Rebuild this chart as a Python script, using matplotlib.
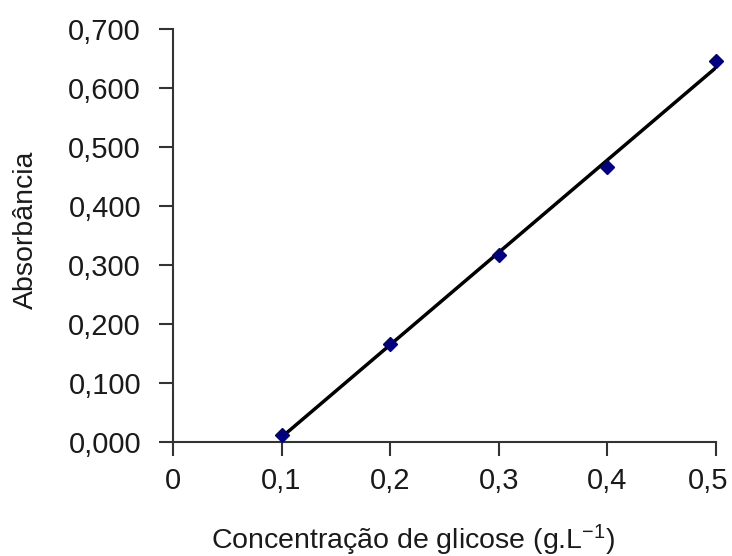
import matplotlib
matplotlib.use("Agg")
import matplotlib.pyplot as plt
import matplotlib.transforms as mtransforms
import numpy as np

# calibration data
concentracao = [0.1, 0.2, 0.3, 0.4, 0.5]
absorbancia = [0.012, 0.165, 0.317, 0.466, 0.645]

x_ticks = [0, 0.1, 0.2, 0.3, 0.4, 0.5]
x_labels = ["0", "0,1", "0,2", "0,3", "0,4", "0,5"]
y_ticks = [0.0, 0.1, 0.2, 0.3, 0.4, 0.5, 0.6, 0.7]
y_labels = ["0,000", "0,100", "0,200", "0,300", "0,400", "0,500", "0,600", "0,700"]

plt.rcParams['font.family'] = ['Liberation Sans', 'DejaVu Sans']
plt.rcParams['mathtext.fontset'] = 'custom'
plt.rcParams['mathtext.rm'] = 'Liberation Sans'
plt.rcParams['mathtext.default'] = 'regular'

fig = plt.figure(figsize=(7.32, 5.56), dpi=100)
ax = fig.add_axes([0.2363, 0.2056, 0.978 - 0.2363, 0.9478 - 0.2056])

# linear trend line over the measured range
a, b = np.polyfit(concentracao, absorbancia, 1)
xs = np.array([concentracao[0], concentracao[-1]])
ax.plot(xs, a * xs + b, color='black', lw=2.5, zorder=2)

ax.plot(concentracao, absorbancia, linestyle='none', marker='D', ms=7,
        color='#000080', zorder=3, clip_on=False)

ax.set_xlim(0, 0.5)
ax.set_ylim(0, 0.7)
ax.set_xticks(x_ticks)
ax.set_xticklabels(x_labels)
ax.set_yticks(y_ticks)
ax.set_yticklabels(y_labels)

for s in ['top', 'right']:
    ax.spines[s].set_visible(False)
for s in ['left', 'bottom']:
    ax.spines[s].set_color('#333333')
    ax.spines[s].set_linewidth(1.5)

ax.tick_params(axis='both', direction='out', length=10, width=1.5,
               color='#333333', labelsize=21, labelcolor='#1a1a1a')
ax.tick_params(axis='x', pad=8)
ax.tick_params(axis='y', pad=13)

# last x label sits a bit left so it stays inside the figure
lbl = ax.get_xticklabels()[-1]
lbl.set_transform(lbl.get_transform() +
                  mtransforms.ScaledTranslation(-8 / 100, 0, fig.dpi_scale_trans))

ax.set_xlabel("Concentração de glicose (g.L$^{-1}$)", fontsize=20.5,
              color='#1a1a1a', va='center')
ax.xaxis.set_label_coords(0.442, -0.238)
ax.set_ylabel("Absorbância", fontsize=20.5, color='#1a1a1a', va='center')
ax.yaxis.set_label_coords(-0.271, 0.513)

fig.savefig("out.png", dpi=100, facecolor='white')
